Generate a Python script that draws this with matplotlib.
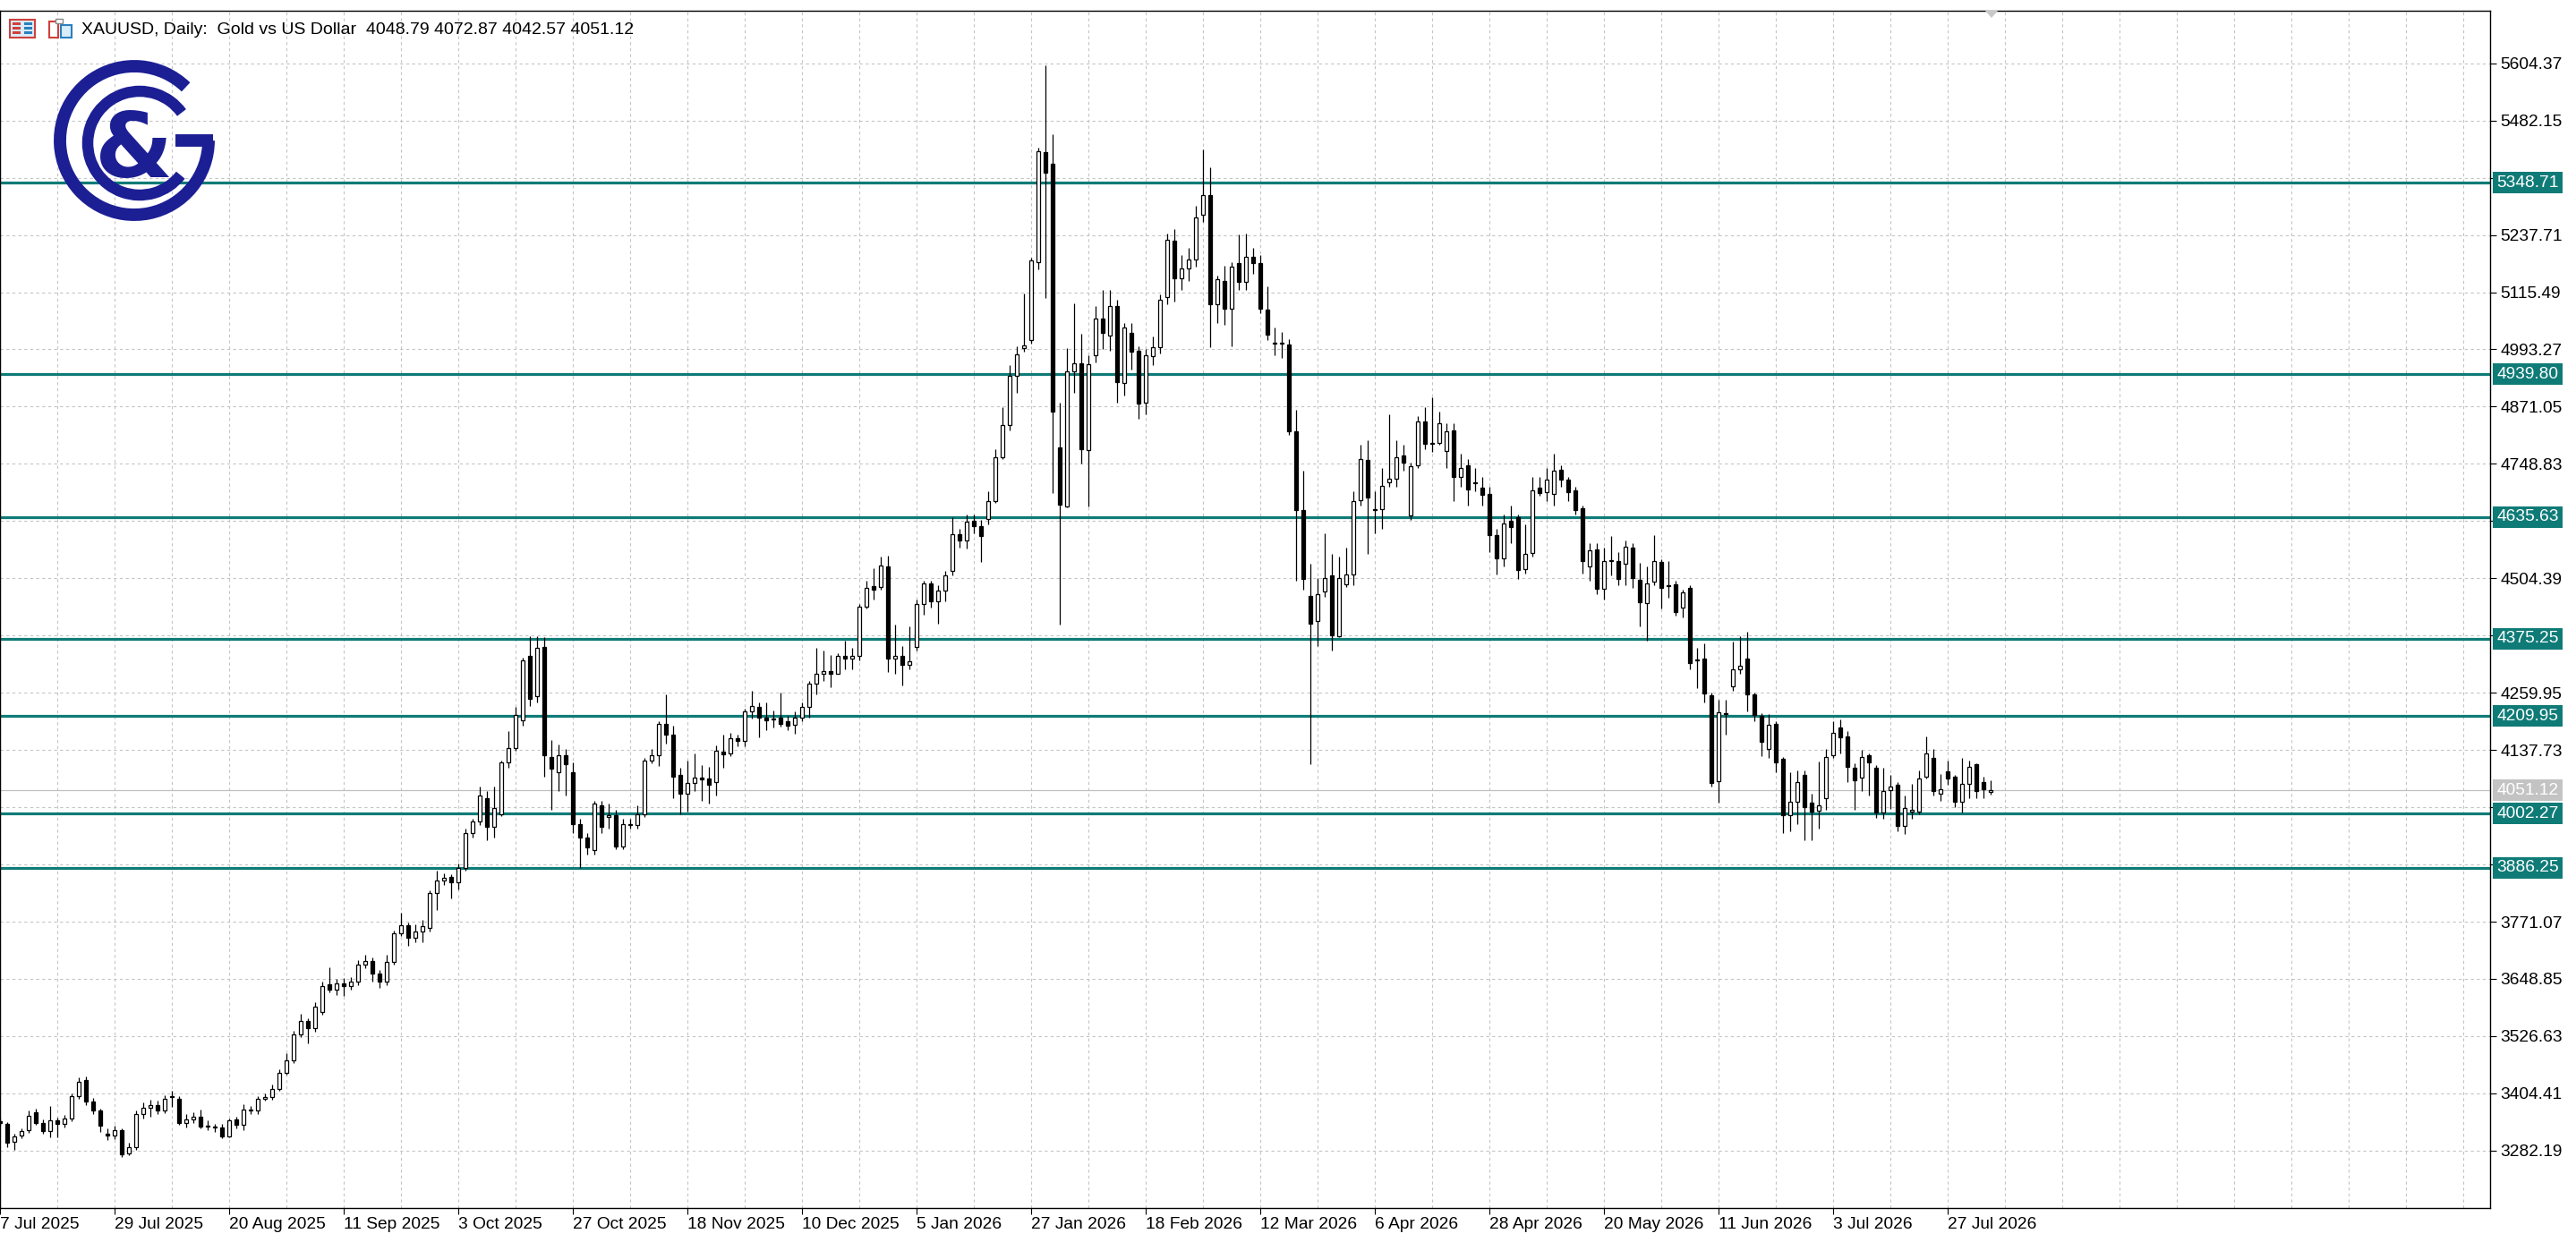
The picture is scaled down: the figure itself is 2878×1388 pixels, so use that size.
import matplotlib
matplotlib.use("Agg")
import matplotlib.pyplot as plt
from matplotlib.patches import Rectangle, Arc, Polygon

plt.rcParams['font.family'] = ['Liberation Sans', 'DejaVu Sans']

# ---------------- DATA ----------------
opens = [3345,3340,3301,3315,3325,3364,3342,3323,3346,3339,3350,3398,3432,3387,3367,3318,3314,3326,3276,3289,
3361,3374,3379,3367,3396,3393,3342,3348,3355,3334,3334,3332,3313,3348,3338,3368,3368,3392,3396,3414,
3448,3475,3531,3559,3543,3578,3637,3625,3640,3633,3643,3680,3687,3660,3644,3685,3746,3763,3736,3750,
3757,3832,3859,3866,3855,3886,3960,3985,4034,3974,4000,4111,4141,4202,4339,4253,4358,4122,4091,4126,
4090,3980,3950,3924,4019,3994,3999,3931,3978,3978,4000,4115,4126,4194,4171,4085,4044,4067,4078,4076,
4070,4134,4131,4163,4157,4220,4230,4207,4203,4207,4199,4191,4207,4230,4280,4301,4306,4301,4338,4332,
4338,4443,4488,4486,4530,4332,4338,4319,4357,4449,4494,4456,4478,4520,4598,4586,4628,4615,4631,4669,
4763,4831,4936,4996,5013,5179,5414,5390,4784,4658,4946,4963,4778,4981,5059,5023,5085,4921,5028,4990,
4880,4978,4998,5105,5226,5145,5167,5185,5281,5323,5090,5140,5081,5178,5138,5191,5177,5079,5006,5006,
5004,4818,4650,4466,4413,4477,4510,4380,4492,4513,4671,4757,4650,4652,4709,4718,4766,4639,4746,4840,
4791,4793,4776,4820,4720,4746,4708,4697,4684,4597,4547,4628,4635,4524,4558,4697,4689,4684,4737,4715,
4692,4654,4530,4567,4482,4542,4542,4536,4570,4501,4452,4498,4539,4488,4491,4441,4483,4329,4332,4254,
4071,4215,4273,4310,4332,4256,4211,4140,4193,4119,3998,4027,4084,4025,4008,4034,4127,4186,4167,4100,
4078,4126,4100,4005,4052,4063,3976,4007,4006,4080,4121,4045,4092,4080,4027,4066,4107,4070,4048.79]
highs = [3350,3344,3318,3330,3367,3372,3348,3378,3352,3358,3404,3438,3440,3395,3372,3330,3336,3330,3300,3368,
3385,3390,3388,3400,3409,3398,3360,3364,3370,3346,3340,3340,3350,3355,3382,3378,3398,3405,3424,3456,
3490,3538,3574,3565,3600,3643,3674,3648,3650,3652,3688,3700,3694,3668,3700,3752,3790,3770,3766,3775,
3838,3880,3875,3873,3895,3970,3990,4060,4050,4060,4115,4178,4230,4334,4381,4381,4379,4160,4150,4140,
4112,3990,3960,4030,4030,4023,4010,3990,3990,4020,4120,4140,4200,4256,4190,4100,4115,4130,4105,4102,
4148,4170,4175,4170,4225,4264,4240,4240,4222,4260,4210,4220,4240,4286,4355,4350,4340,4345,4372,4355,
4450,4500,4525,4550,4552,4405,4360,4402,4460,4500,4500,4490,4520,4635,4610,4640,4640,4630,4690,4780,
4870,4960,5000,5113,5190,5425,5599,5453,4880,4996,5092,5026,4980,5085,5120,5120,5100,5050,5050,5000,
4995,5020,5110,5240,5250,5195,5210,5300,5420,5383,5150,5172,5180,5238,5240,5210,5195,5128,5040,5030,
5015,4865,4735,4535,4505,4600,4556,4550,4570,4690,4790,4800,4690,4740,4855,4800,4790,4752,4850,4870,
4890,4860,4835,4836,4770,4760,4740,4720,4700,4610,4640,4660,4640,4620,4720,4720,4740,4770,4745,4720,
4700,4660,4580,4580,4570,4595,4560,4585,4580,4537,4530,4597,4546,4542,4500,4480,4490,4355,4365,4260,
4245,4245,4370,4380,4390,4260,4216,4215,4200,4123,4090,4095,4095,4045,4113,4140,4200,4203,4178,4110,
4138,4130,4105,4100,4085,4070,4040,4065,4095,4166,4140,4086,4115,4085,4120,4115,4110,4080,4072.87]
lows = [3335,3290,3283,3308,3320,3338,3318,3310,3310,3332,3345,3392,3380,3360,3322,3305,3306,3268,3272,3284,
3350,3354,3360,3362,3375,3338,3332,3342,3330,3326,3322,3308,3310,3330,3325,3360,3360,3388,3390,3410,
3444,3470,3525,3512,3536,3572,3620,3614,3612,3626,3635,3672,3644,3630,3636,3680,3740,3720,3728,3727,
3750,3796,3850,3820,3840,3880,3950,3978,3945,3950,3996,4100,4137,4190,4232,4240,4080,4010,4050,4040,
3960,3886,3915,3915,3960,3970,3925,3926,3970,3970,3995,4110,4104,4152,4035,4001,4006,4050,4030,4023,
4040,4100,4125,4145,4145,4205,4165,4180,4185,4188,4180,4172,4200,4206,4256,4285,4272,4312,4310,4310,
4330,4440,4460,4480,4305,4300,4275,4310,4350,4427,4442,4408,4455,4510,4570,4568,4600,4540,4620,4665,
4760,4820,4900,4988,5005,5165,5104,4686,4405,4655,4900,4750,4658,4965,4995,4990,4880,4895,4950,4845,
4855,4960,4985,5090,5095,5120,5140,5170,5265,4998,5050,5045,5000,5120,5120,5155,5070,5014,4980,4975,
4810,4500,4480,4107,4360,4465,4350,4378,4485,4490,4660,4556,4600,4610,4700,4700,4735,4630,4740,4780,
4775,4790,4740,4670,4700,4660,4690,4660,4560,4512,4530,4580,4503,4515,4550,4680,4670,4660,4700,4670,
4640,4515,4500,4470,4460,4510,4490,4490,4484,4402,4372,4490,4440,4462,4425,4420,4310,4270,4240,4060,
4025,4170,4265,4300,4220,4200,4125,4120,4090,3960,3965,3980,3945,3945,3970,4010,4120,4130,4070,4010,
4050,4040,3992,3990,4012,3965,3958,3990,4000,4077,4040,4030,4064,4015,4005,4035,4035,4035,4042.57]
closes = [3342,3300,3313,3323,3357,3342,3323,3346,3339,3350,3398,3430,3387,3367,3336,3314,3325,3274,3289,3361,
3374,3379,3367,3392,3398,3342,3348,3355,3334,3336,3332,3313,3346,3338,3370,3368,3392,3396,3414,3448,
3475,3531,3559,3543,3590,3634,3625,3640,3633,3643,3680,3687,3660,3644,3685,3746,3763,3736,3750,3761,
3832,3859,3864,3855,3886,3960,3985,4041,3974,4013,4111,4141,4212,4329,4247,4356,4126,4097,4126,4108,
3980,3950,3929,4024,3974,3999,3931,3980,3978,4000,4115,4126,4194,4171,4081,4044,4067,4078,4075,4064,
4137,4129,4163,4157,4220,4231,4206,4201,4203,4193,4190,4207,4230,4280,4301,4306,4301,4338,4332,4338,
4443,4484,4480,4532,4332,4338,4319,4328,4449,4494,4456,4478,4510,4598,4586,4626,4615,4594,4669,4763,
4831,4936,4982,5002,5183,5417,5371,4861,4661,4946,4963,4780,4962,5059,5028,5085,4923,5040,4989,4878,
4980,4998,5100,5228,5145,5167,5185,5275,5322,5090,5143,5081,5170,5138,5191,5177,5081,5025,5006,5006,
4818,4650,4503,4407,4470,4504,4382,4505,4513,4669,4759,4676,4650,4701,4718,4763,4752,4743,4840,4791,
4791,4836,4819,4720,4740,4695,4708,4682,4597,4547,4622,4614,4522,4556,4692,4686,4716,4735,4715,4688,
4650,4541,4564,4482,4541,4542,4503,4571,4505,4454,4494,4542,4484,4488,4433,4474,4323,4329,4259,4068,
4218,4215,4310,4317,4256,4213,4155,4191,4111,3998,4027,4070,4015,4007,4020,4122,4174,4164,4102,4073,
4122,4111,4005,4051,4059,3975,4013,4010,4077,4130,4050,4054,4077,4028,4066,4102,4051,4054,4051.12]

date_labels = ["7 Jul 2025", "29 Jul 2025", "20 Aug 2025", "11 Sep 2025", "3 Oct 2025", "27 Oct 2025",
               "18 Nov 2025", "10 Dec 2025", "5 Jan 2026", "27 Jan 2026", "18 Feb 2026", "12 Mar 2026",
               "6 Apr 2026", "28 Apr 2026", "20 May 2026", "11 Jun 2026", "3 Jul 2026", "27 Jul 2026"]
price_ticks = [3282.19, 3404.41, 3526.63, 3648.85, 3771.07, 3893.29, 4015.51, 4137.73, 4259.95, 4382.17,
               4504.39, 4626.61, 4748.83, 4871.05, 4993.27, 5115.49, 5237.71, 5359.93, 5482.15, 5604.37]
levels = [5348.71, 4939.80, 4635.63, 4375.25, 4209.95, 4002.27, 3886.25]
last_price = 4051.12
title = "XAUUSD, Daily:  Gold vs US Dollar  4048.79 4072.87 4042.57 4051.12"

# ---------------- FIGURE ----------------
W, H = 2878, 1388
fig = plt.figure(figsize=(W / 100, H / 100), dpi=100)
AX_L, AX_R, AX_T, AX_B = 0, 2782, 12, 1350
ax = fig.add_axes([AX_L / W, (H - AX_B) / H, (AX_R - AX_L) / W, (AX_B - AX_T) / H])
ymin, ymax = 3159.6, 5716.5
ax.set_xlim(0, AX_R / 8.0)
ax.set_ylim(ymin, ymax)

teal = "#0f7b77"
n = len(closes)
xs = list(range(n))

# grid
for gx in range(0, 350, 8):
    ax.axvline(gx, color="#c4c4c4", lw=0.8, ls=(0, (3, 3)), zorder=0)
for p in price_ticks:
    ax.axhline(p, color="#c4c4c4", lw=0.8, ls=(0, (3, 3)), zorder=0)

# levels
for lv in levels:
    ax.axhline(lv, color=teal, lw=2.3, zorder=2)
ax.axhline(last_price, color="#c0c0c0", lw=0.9, zorder=1)

# candles
ax.vlines(xs, lows, highs, color="black", lw=0.9, zorder=3)
for i in xs:
    o, c = opens[i], closes[i]
    bottom = min(o, c)
    h = max(abs(c - o), 1.6)
    if c >= o:
        ax.bar(i, h, bottom=bottom, width=0.62, facecolor="white", edgecolor="black", lw=0.9, zorder=4)
    else:
        ax.bar(i, h, bottom=bottom, width=0.62, facecolor="black", edgecolor="black", lw=0.9, zorder=4)

# axes styling
for s in ["left", "top", "right", "bottom"]:
    ax.spines[s].set_color("black")
    ax.spines[s].set_linewidth(1.0)
ax.yaxis.tick_right()
ax.set_yticks(price_ticks)
ax.set_yticklabels([f"{p:.2f}" for p in price_ticks])
ax.set_xticks([16 * k for k in range(len(date_labels))])
ax.set_xticklabels(date_labels, ha="left")
ax.tick_params(axis="y", length=5, width=0.8, pad=3, labelsize=13.8)
ax.tick_params(axis="x", length=5, width=0.8, pad=2, labelsize=13.8)
for lab in ax.get_yticklabels():
    if any(abs(lab.get_position()[1] - lv) < 18 for lv in levels + [last_price]):
        lab.set_visible(False)

# overlay in pixel coordinates
ov = fig.add_axes([0, 0, 1, 1], zorder=10)
ov.set_xlim(0, W)
ov.set_ylim(0, H)
ov.axis("off")
ov.patch.set_alpha(0)

def py(yimg):
    return H - yimg

def price_to_img(p):
    return AX_T + (ymax - p) / (ymax - ymin) * (AX_B - AX_T)

for lv in levels:
    yc = price_to_img(lv)
    ov.add_patch(Rectangle((2785, py(yc) - 12), 78, 24, facecolor=teal, edgecolor="none"))
    ov.text(2789, py(yc), f"{lv:.2f}", color="white", fontsize=13.8, va="center", ha="left")
yc = price_to_img(last_price)
ov.add_patch(Rectangle((2785, py(yc) - 12), 78, 24, facecolor="#c3c3c3", edgecolor="none"))
ov.text(2789, py(yc), f"{last_price:.2f}", color="white", fontsize=13.8, va="center", ha="left")

# title + icons
ov.text(91, py(33), title, fontsize=14, va="center", ha="left", color="black")
ov.add_patch(Rectangle((11, py(42)), 28, 20, facecolor="#d9ecf7", edgecolor="#d0403c", lw=1.5))
for yy in (26, 31, 36):
    ov.add_patch(Rectangle((14, py(yy) - 1.5), 9, 3, facecolor="#d0403c", edgecolor="none"))
    ov.add_patch(Rectangle((27, py(yy) - 1.5), 9, 3, facecolor="#2a7fc0", edgecolor="none"))
ov.add_patch(Rectangle((55, py(42)), 10, 18, facecolor="white", edgecolor="#d0403c", lw=1.5))
ov.add_patch(Rectangle((68, py(42)), 12, 14, facecolor="#d9ecf7", edgecolor="#2a7fc0", lw=1.5))
ov.add_patch(Rectangle((62, py(26)), 8, 5, facecolor="white", edgecolor="#888888", lw=1))

# marker at top
ov.add_patch(Polygon([[2218, py(12)], [2232, py(12)], [2225, py(20)]], closed=True,
                     facecolor="#c8c8c8", edgecolor="none"))

# logo
navy = "#1c1f94"
ov.add_patch(Arc((150, py(157)), 166, 166, theta1=46, theta2=360, color=navy, lw=10))
ov.add_patch(Arc((156, py(160)), 116, 116, theta1=36, theta2=322, color=navy, lw=9))
ov.plot([196, 238], [py(157), py(157)], color=navy, lw=10, solid_capstyle="butt")
ov.text(150, py(170), "&", fontsize=72, fontweight="bold", color=navy, ha="center", va="center",
        family="DejaVu Sans")

fig.savefig("out.png", dpi=100)
